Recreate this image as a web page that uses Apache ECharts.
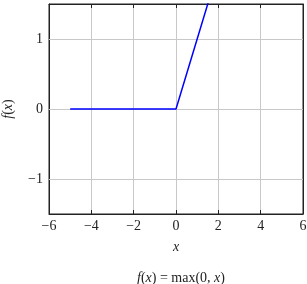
<!DOCTYPE html>
<html>
<head>
<meta charset="utf-8">
<script src="https://cdn.jsdelivr.net/npm/echarts@6/dist/echarts.min.js"></script>
<style>
  html, body { margin: 0; padding: 0; background: #fff; }
  #main { width: 307px; height: 284px; }
</style>
</head>
<body>
<div id="main"></div>
<script>
// ReLU samples: f(x) = max(0, x)
const xValues = [-5, 0, 5];
const yValues = [0, 0, 5];
const xTicks = [-6, -4, -2, 0, 2, 4, 6];
const yTicks = [-1, 0, 1];

const serif = 'Liberation Serif';
const minus = v => String(v).replace('-', '\u2212');

const chart = echarts.init(document.getElementById('main'), null, { renderer: 'canvas' });

const tick = { show: true, inside: true, length: 4, lineStyle: { color: '#222' } };
const boxAxis = {
  axisLine: { show: true, onZero: false, lineStyle: { color: '#222', width: 1 } },
  axisTick: tick,
  axisLabel: { show: false },
  splitLine: { show: false }
};

chart.setOption({
  animation: false,
  title: {
    text: '{i|f}({i|x}) = max(0, {i|x})',
    left: 176, top: 266, textAlign: 'center',
    textStyle: {
      fontFamily: serif, fontSize: 14, fontWeight: 'normal', color: '#222',
      rich: { i: { fontFamily: serif, fontStyle: 'italic', fontSize: 14, color: '#222' } }
    }
  },
  grid: {
    left: 49, right: 4, top: 4, bottom: 70, outerBoundsMode: 'none', containLabel: false,
    show: true, borderColor: '#222', borderWidth: 1, backgroundColor: 'transparent'
  },
  xAxis: [{
    type: 'value', min: -6, max: 6, interval: 2,
    name: 'x', nameLocation: 'middle', nameGap: 26,
    nameTextStyle: { fontFamily: serif, fontStyle: 'italic', fontSize: 14, color: '#222' },
    axisLine: { show: true, onZero: false, lineStyle: { color: '#222' } },
    axisTick: tick,
    axisLabel: { fontFamily: serif, fontSize: 14, color: '#222', margin: 5, formatter: minus },
    splitLine: { show: true, lineStyle: { color: '#c8c8c8', width: 1 } }
  }, Object.assign({ type: 'value', position: 'top', min: -6, max: 6, interval: 2 }, boxAxis)],
  yAxis: [{
    type: 'value', min: -1.5, max: 1.5, interval: 1,
    name: '{i|f}({i|x})', nameLocation: 'middle', nameGap: 34, nameRotate: 90,
    nameTextStyle: {
      fontFamily: serif, fontSize: 14, color: '#222',
      rich: { i: { fontFamily: serif, fontStyle: 'italic', fontSize: 14, color: '#222' } }
    },
    axisLine: { show: true, onZero: false, lineStyle: { color: '#222' } },
    axisTick: Object.assign({ customValues: yTicks }, tick),
    axisLabel: { fontFamily: serif, fontSize: 14, color: '#222', margin: 6, formatter: minus, customValues: yTicks },
    splitLine: { show: false }
  }, Object.assign({ type: 'value', position: 'right', min: -1.5, max: 1.5 }, boxAxis, {
    axisTick: Object.assign({ customValues: yTicks }, tick)
  })],
  series: [{
    type: 'line',
    data: xValues.map((x, i) => [x, yValues[i]]),
    showSymbol: false,
    clip: true,
    lineStyle: { color: '#0000ff', width: 1.5 },
    markLine: {
      silent: true, symbol: 'none', label: { show: false },
      lineStyle: { color: '#c8c8c8', width: 1, type: 'solid' },
      data: yTicks.map(v => ({ yAxis: v }))
    },
    z: 5
  }]
});
</script>
</body>
</html>
